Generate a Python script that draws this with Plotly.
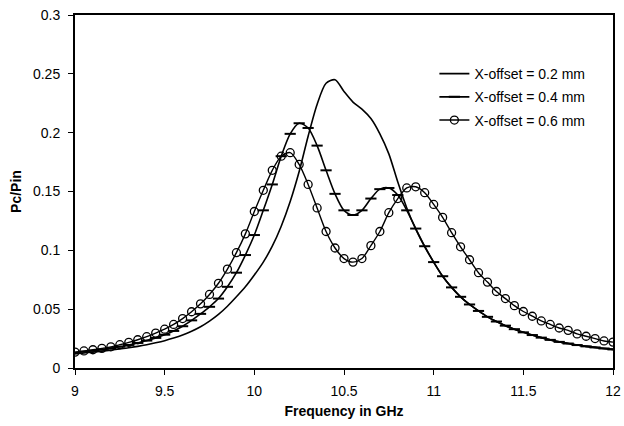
import plotly.graph_objects as go

freq = [9.00, 9.05, 9.10, 9.15, 9.20, 9.25, 9.30, 9.35, 9.40, 9.45,
        9.50, 9.55, 9.60, 9.65, 9.70, 9.75, 9.80, 9.85, 9.90, 9.95,
        10.00, 10.05, 10.10, 10.15, 10.20, 10.25, 10.30, 10.35, 10.40, 10.45,
        10.50, 10.55, 10.60, 10.65, 10.70, 10.75, 10.80, 10.85, 10.90, 10.95,
        11.00, 11.05, 11.10, 11.15, 11.20, 11.25, 11.30, 11.35, 11.40, 11.45,
        11.50, 11.55, 11.60, 11.65, 11.70, 11.75, 11.80, 11.85, 11.90, 11.95,
        12.00]

offset_02 = [0.0120, 0.0128, 0.0135, 0.0143, 0.0152, 0.0161, 0.0172, 0.0184, 0.0198, 0.0214,
             0.0232, 0.0254, 0.0280, 0.0312, 0.0350, 0.0398, 0.0455, 0.0525, 0.0605, 0.0690,
             0.0790, 0.0900, 0.1035, 0.1205, 0.1415, 0.1670, 0.1970, 0.2240, 0.2420, 0.2450,
             0.2350, 0.2260, 0.2200, 0.2120, 0.1990, 0.1820, 0.1580, 0.1360, 0.1180, 0.1030,
             0.0900, 0.0780, 0.0685, 0.0605, 0.0540, 0.0485, 0.0435, 0.0395, 0.0360, 0.0330,
             0.0303, 0.0280, 0.0258, 0.0239, 0.0222, 0.0208, 0.0195, 0.0184, 0.0175, 0.0166,
             0.0158]

offset_04 = [0.0130, 0.0138, 0.0147, 0.0157, 0.0168, 0.0181, 0.0196, 0.0213, 0.0233, 0.0256,
             0.0283, 0.0315, 0.0355, 0.0405, 0.0460, 0.0520, 0.0590, 0.0690, 0.0810, 0.0960,
             0.1130, 0.1340, 0.1560, 0.1800, 0.1990, 0.2080, 0.2040, 0.1890, 0.1680, 0.1480,
             0.1340, 0.1300, 0.1340, 0.1440, 0.1520, 0.1530, 0.1470, 0.1340, 0.1185, 0.1035,
             0.0900, 0.0780, 0.0685, 0.0605, 0.0540, 0.0485, 0.0435, 0.0395, 0.0360, 0.0330,
             0.0303, 0.0280, 0.0258, 0.0239, 0.0222, 0.0208, 0.0195, 0.0184, 0.0175, 0.0166,
             0.0158]

offset_06 = [0.0135, 0.0145, 0.0155, 0.0167, 0.0180, 0.0198, 0.0218, 0.0240, 0.0266, 0.0297,
             0.0330, 0.0370, 0.0420, 0.0478, 0.0545, 0.0625, 0.0720, 0.0840, 0.0980, 0.1140,
             0.1330, 0.1510, 0.1680, 0.1800, 0.1830, 0.1730, 0.1560, 0.1360, 0.1160, 0.1020,
             0.0930, 0.0900, 0.0930, 0.1040, 0.1160, 0.1320, 0.1440, 0.1530, 0.1540, 0.1490,
             0.1390, 0.1280, 0.1150, 0.1030, 0.0920, 0.0810, 0.0730, 0.0650, 0.0590, 0.0530,
             0.0480, 0.0440, 0.0400, 0.0370, 0.0340, 0.0320, 0.0290, 0.0270, 0.0250, 0.0230,
             0.0220]

series_names = ["X-offset = 0.2 mm", "X-offset = 0.4 mm", "X-offset = 0.6 mm"]
x_ticks = [9, 9.5, 10, 10.5, 11, 11.5, 12]
x_tick_labels = ["9", "9.5", "10", "10.5", "11", "11.5", "12"]
y_ticks = [0, 0.05, 0.1, 0.15, 0.2, 0.25, 0.3]
y_tick_labels = ["0", "0.05", "0.1", "0.15", "0.2", "0.25", "0.3"]

FONT = "Liberation Sans, Arial, Helvetica, sans-serif"

fig = go.Figure()
fig.add_trace(go.Scatter(
    x=freq, y=offset_02, name=series_names[0], mode="lines",
    line=dict(color="black", width=1.6, shape="spline", smoothing=0.8),
    legendgroup="a"))
fig.add_trace(go.Scatter(
    x=freq, y=offset_04, name=series_names[1], mode="lines+markers",
    line=dict(color="black", width=1.6, shape="spline", smoothing=0.8),
    marker=dict(symbol="line-ew", size=8, color="black",
                line=dict(color="black", width=2)),
    legendgroup="b"))
fig.add_trace(go.Scatter(
    x=freq, y=offset_06, name=series_names[2], mode="lines+markers",
    line=dict(color="black", width=1.4, shape="spline", smoothing=0.8),
    marker=dict(symbol="circle-open", size=8, color="black",
                line=dict(color="black", width=1.3)),
    legendgroup="c"))

fig.update_layout(
    width=624, height=426,
    margin=dict(l=75, r=3, t=15, b=58),
    paper_bgcolor="white", plot_bgcolor="white",
    font=dict(family=FONT, size=14, color="black"),
    showlegend=True,
    legend=dict(x=0.668, y=0.878, xanchor="left", yanchor="top",
                bgcolor="rgba(0,0,0,0)", borderwidth=0,
                font=dict(size=14, family=FONT),
                traceorder="grouped", tracegroupgap=2),
    xaxis=dict(range=[9, 12], tickvals=x_ticks, ticktext=x_tick_labels,
               showgrid=False, zeroline=False, showline=True, linecolor="black",
               linewidth=2, mirror=True, ticks="outside", ticklen=5, tickwidth=1,
               tickcolor="black", ticklabeloverflow="allow", ticklabelstandoff=4,
               title=dict(text="<b>Frequency in GHz</b>", font=dict(size=14), standoff=8)),
    yaxis=dict(range=[0, 0.3], tickvals=y_ticks, ticktext=y_tick_labels,
               showgrid=False, zeroline=False, showline=True, linecolor="black",
               linewidth=2, mirror=True, ticks="outside", ticklen=5, tickwidth=1,
               tickcolor="black", ticklabelstandoff=5,
               title=dict(text="<b>Pc/Pin</b>", font=dict(size=14), standoff=8)),
)

fig.write_html("out.html")
